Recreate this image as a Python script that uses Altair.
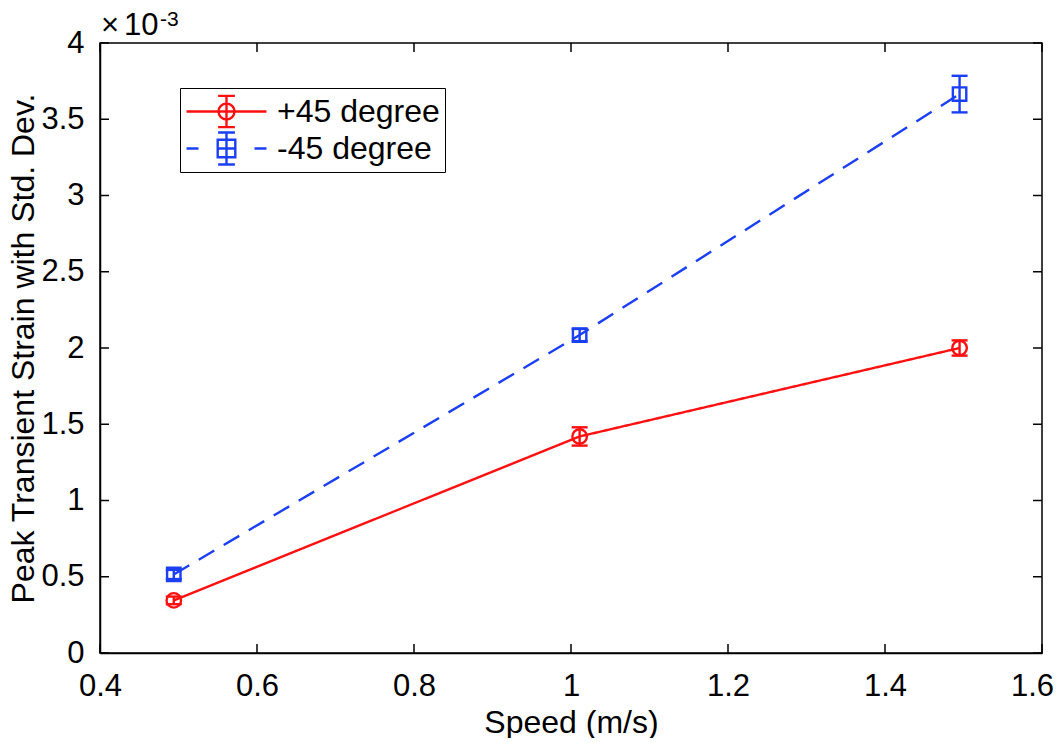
import altair as alt
import pandas as pd

# ---- data (strain in units of 1e-3) ----
speed = [0.494, 1.011, 1.495]
plus45 = [0.345, 1.42, 2.0]
plus45_err = [0.025, 0.06, 0.05]
minus45 = [0.515, 2.085, 3.665]
minus45_err = [0.03, 0.04, 0.12]
series_names = ["+45 degree", "-45 degree"]
series_colors = ["#FF1010", "#1A3FF5"]
series_markers = ["circle", "square"]
series_dash = [[1, 0], [18, 11]]
x_ticks = [0.4, 0.6, 0.8, 1.0, 1.2, 1.4, 1.6]
y_ticks = [0, 0.5, 1, 1.5, 2, 2.5, 3, 3.5, 4]
x_title = "Speed (m/s)"
y_title = "Peak Transient Strain with Std. Dev."
exp_parts = ["×", "10"]
exp_power = ["-3"]

FONT = "Liberation Sans"
W, H = 942, 610
LW = 2.4

rows = []
for name, vals, errs in [(series_names[0], plus45, plus45_err),
                         (series_names[1], minus45, minus45_err)]:
    for s, v, e in zip(speed, vals, errs):
        rows.append(dict(series=name, speed=s, strain=v, lo=v - e, hi=v + e))
df = pd.DataFrame(rows)

xs = alt.Scale(domain=[0.4, 1.6], nice=False, zero=False)
ys = alt.Scale(domain=[0, 4], nice=False, zero=False)
cs = alt.Scale(domain=series_names, range=series_colors)

x_axis = alt.Axis(values=x_ticks, format="~g", title=x_title, labelFlush=False,
                  labelOffset={"condition": {"test": "datum.value >= 1.59", "value": -10},
                               "value": 0},
                  labelPadding=18, titlePadding=6)
y_axis = alt.Axis(values=y_ticks, format="~g", title=y_title, labelFlush=False,
                  labelPadding=16, titlePadding=0)


def X(field):
    return alt.X(field, scale=xs, axis=x_axis)


def Y(field):
    return alt.Y(field, scale=ys, axis=y_axis)


layers = []
for name, color, marker, dash in zip(series_names, series_colors, series_markers, series_dash):
    b = alt.Chart(df).transform_filter(alt.datum.series == name)
    layers.append(b.mark_line(strokeWidth=LW, color=color, strokeDash=dash).encode(
        x=X("speed:Q"), y=Y("strain:Q")))
    layers.append(b.mark_rule(strokeWidth=LW, color=color).encode(
        x=X("speed:Q"), y=Y("lo:Q"), y2="hi:Q"))
    layers.append(b.mark_tick(orient="horizontal", size=16, thickness=LW, color=color,
                              opacity=1).encode(x=X("speed:Q"), y=Y("lo:Q")))
    layers.append(b.mark_tick(orient="horizontal", size=16, thickness=LW, color=color,
                              opacity=1).encode(x=X("speed:Q"), y=Y("hi:Q")))
    layers.append(b.mark_point(shape=marker, size=210 if marker == "circle" else 180,
                               filled=False, strokeWidth=LW, color=color, opacity=1).encode(
        x=X("speed:Q"), y=Y("strain:Q")))

# legend symbols (line + marker + error bar), unit = 40 px
sym_red = ("M-1,0H1M0,-0.39V0.39M-0.21,-0.39H0.21M-0.21,0.39H0.21"
           "M-0.2,0A0.2,0.2 0 1,0 0.2,0A0.2,0.2 0 1,0 -0.2,0")
sym_blue = ("M-1,0H-0.7M0.7,0H1M-0.22,0H0.22M0,-0.4V0.4M-0.21,-0.4H0.21M-0.21,0.4H0.21"
            "M-0.22,-0.22H0.22V0.22H-0.22Z")
leg = alt.Legend(orient="none", legendX=80, legendY=45, title=None,
                 symbolSize=6400, symbolStrokeWidth=LW, symbolOpacity=1,
                 symbolFillColor="transparent",
                 labelFont=FONT, labelFontSize=32, labelColor="black",
                 labelOffset=9, labelLimit=400, padding=5,
                 strokeColor="black", fillColor="white",
                 clipHeight=37, rowPadding=0)
legend_layer = alt.Chart(df).mark_point(opacity=0, filled=False).encode(
    x=X("speed:Q"), y=Y("strain:Q"),
    color=alt.Color("series:N", scale=cs, legend=leg),
    shape=alt.Shape("series:N", scale=alt.Scale(domain=series_names, range=[sym_red, sym_blue]),
                    legend=leg),
)
layers.append(legend_layer)

# inward ticks on all four sides
ytdf = pd.DataFrame({"strain": y_ticks})
xtdf = pd.DataFrame({"speed": x_ticks})
for x0, x1 in [(0, 9), (W - 9, W)]:
    layers.append(alt.Chart(ytdf).mark_rule(color="black", strokeWidth=1.5).encode(
        y=Y("strain:Q"), x=alt.value(x0), x2=alt.value(x1)))
for y0, y1 in [(H - 9, H), (0, 9)]:
    layers.append(alt.Chart(xtdf).mark_rule(color="black", strokeWidth=1.5).encode(
        x=X("speed:Q"), y=alt.value(y0), y2=alt.value(y1)))

layers.append(alt.Chart(pd.DataFrame({"t": exp_parts[:1]})).mark_text(
    align="left", baseline="alphabetic", font=FONT, fontSize=31, color="black").encode(
    text="t:N", x=alt.value(1), y=alt.value(-8)))
layers.append(alt.Chart(pd.DataFrame({"t": exp_parts[1:]})).mark_text(
    align="left", baseline="alphabetic", font=FONT, fontSize=31, color="black").encode(
    text="t:N", x=alt.value(24), y=alt.value(-8)))
layers.append(alt.Chart(pd.DataFrame({"t": exp_power})).mark_text(
    align="left", baseline="alphabetic", font=FONT, fontSize=21, color="black").encode(
    text="t:N", x=alt.value(60), y=alt.value(-17)))

chart = alt.layer(*layers).properties(
    width=W, height=H,
    autosize=alt.AutoSizeParams(type="none"),
    padding={"left": 92, "top": 35, "right": 13, "bottom": 85},
).configure_view(
    stroke="black", strokeWidth=1.5
).configure_axis(
    grid=False, ticks=False, domain=True, domainColor="black", domainWidth=1.5,
    labelFont=FONT, labelFontSize=31, labelColor="black",
    titleFont=FONT, titleFontSize=32, titleFontWeight="normal", titleColor="black",
)

chart.save("out.html", embed_options={"renderer": "svg", "actions": False})
